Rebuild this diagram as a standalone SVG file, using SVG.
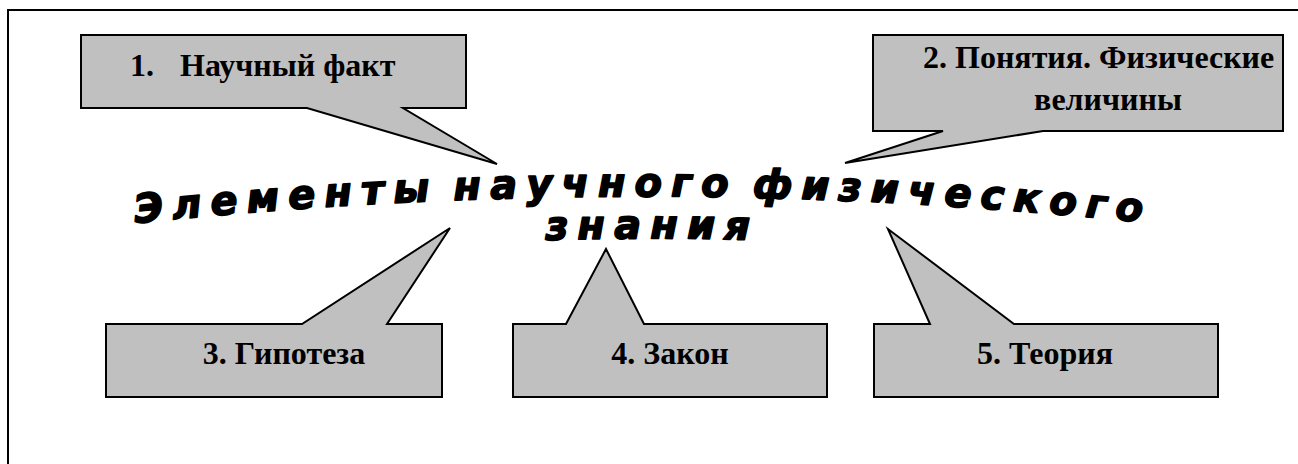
<svg xmlns="http://www.w3.org/2000/svg" width="1298" height="464" viewBox="0 0 1298 464">
<style>
.frame{fill:none;stroke:#000;stroke-width:2}
.callout{fill:#c0c0c0;stroke:#000;stroke-width:2;stroke-linejoin:miter}
.lbl{font-family:"Liberation Serif","Times New Roman",serif;font-weight:bold;font-size:32px;fill:#000}
.title{font-family:"DejaVu Sans","Liberation Sans",sans-serif;font-weight:bold;font-style:italic;font-size:40px;fill:#000;stroke:#000;stroke-width:1.6;stroke-linejoin:round;letter-spacing:9px;word-spacing:-8px}
</style>
<defs>
<path id="arc1" d="M120,225 Q643,168 1166,225"/>
<path id="arc2" d="M520,241 Q652,236 784,241"/>
</defs>
<rect class="frame" x="8" y="10" width="1310" height="480"/>
<g id="title">
<text class="title"><textPath href="#arc1" startOffset="50%" text-anchor="middle">Элементы научного физического</textPath></text>
<text class="title"><textPath href="#arc2" startOffset="50%" text-anchor="middle">знания</textPath></text>
</g>
<g id="connectors"></g>
<g id="node1">
<path class="callout" d="M81,35 H466 V108 H403 L497,164 L307,108 H81 Z"/>
<text class="lbl" y="76"><tspan x="130">1.</tspan><tspan x="180">Научный факт</tspan></text>
</g>
<g id="node2">
<path class="callout" d="M873,35 H1283 V131 H1043 L845,163 L943,131 H873 Z"/>
<text class="lbl" x="923" y="68">2. Понятия. Физические</text>
<text class="lbl" x="1108" y="110" text-anchor="middle">величины</text>
</g>
<g id="node3">
<path class="callout" d="M106,324 H302 L450,228 L387,324 H442 V397 H106 Z"/>
<text class="lbl" x="284" y="364" text-anchor="middle">3. Гипотеза</text>
</g>
<g id="node4">
<path class="callout" d="M513,324 H566 L606,249 L644,324 H827 V397 H513 Z"/>
<text class="lbl" x="670" y="364" text-anchor="middle">4. Закон</text>
</g>
<g id="node5">
<path class="callout" d="M874,324 H930 L888,229 L1014,324 H1218 V397 H874 Z"/>
<text class="lbl" x="1045" y="364" text-anchor="middle">5. Теория</text>
</g>
</svg>
